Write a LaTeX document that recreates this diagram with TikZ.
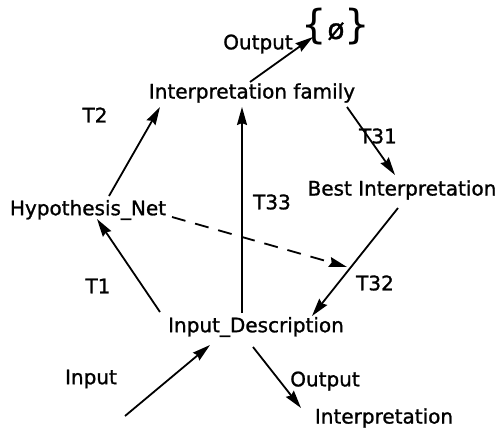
\documentclass[tikz,border=0pt]{standalone}
\usepackage{fontspec}
\setmainfont[FakeBold=1.2]{DejaVu Sans}
\newfontfamily\bracefont{DejaVu Sans}
\usetikzlibrary{arrows.meta,calc}
\tikzset{
  lbl/.style={inner sep=0pt, font=\fontsize{20}{22}\selectfont},
  conn/.style={line width=1.8pt, -{Stealth[length=18pt,width=10pt,inset=2pt]}},
  weak/.style={conn, dash pattern=on 14pt off 10pt}
}
\newcommand{\setbrace}[1]{{\bracefont\fontsize{40}{40}\selectfont #1}}
\begin{document}
\begin{tikzpicture}[x=1pt,y=-1pt]
\useasboundingbox (0,0) rectangle (497,439);
% states
\node[lbl] (empty)  at (336,27) {\setbrace{\{}{\fontsize{28}{28}\selectfont ø}\setbrace{\}}};
\node[lbl] (fam)    at (252,93)  {Interpretation family};
\node[lbl] (best)   at (402,190) {Best Interpretation};
\node[lbl] (hyp)    at (88,210)  {Hypothesis\_Net};
\node[lbl] (desc)   at (256,327) {Input\_Description};
\node[lbl] (interp) at (384,418) {Interpretation};
% labels
\node[lbl] (outA) at (258,44)  {Output};
\node[lbl] (tT2)  at (95,115)  {T2};
\node[lbl] (tT31) at (378,136) {T31};
\node[lbl] (tT33) at (272,202) {T33};
\node[lbl] (tT1)  at (98,286)  {T1};
\node[lbl] (tT32) at (375,283) {T32};
\node[lbl] (inL)  at (91,379)  {Input};
\node[lbl] (outB) at (325,381) {Output};
% free ends
\coordinate (src)  at (125,416);
\coordinate (meet) at (347,267);
% transitions
\draw[conn] ($(fam)+(-2,-11)$) -- ($(empty)+(-23,10)$);
\draw[conn] ($(hyp)+(21,-14)$) -- ($(fam)+(-92,14)$);
\draw[conn] ($(fam)+(95,14)$) -- ($(best)+(-7,-15)$);
\draw[conn] ($(desc)+(-96,-15)$) -- ($(hyp)+(9,9)$);
\draw[conn] ($(desc)+(-14,-14)$) -- ($(fam)+(-10,14)$);
\draw[conn] ($(best)+(-4,18)$) -- ($(desc)+(56,-11)$);
\draw[weak] ($(hyp)+(84,7)$) -- (meet);
\draw[conn] (src) -- ($(desc)+(-46,18)$);
\draw[conn] ($(desc)+(-3,20)$) -- ($(interp)+(-83,-10)$);
\end{tikzpicture}
\end{document}
